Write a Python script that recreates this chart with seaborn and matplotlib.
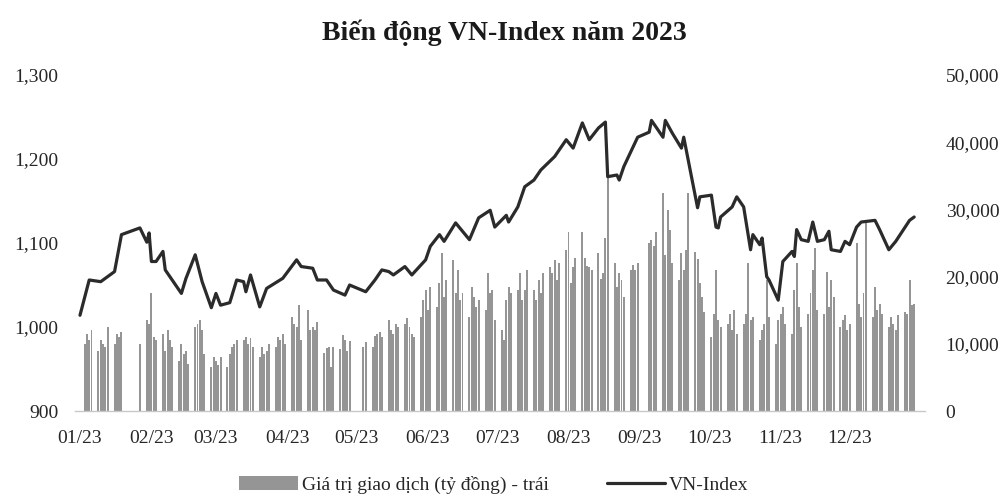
import numpy as np
import pandas as pd
import matplotlib
matplotlib.use("Agg")
import matplotlib.pyplot as plt
import matplotlib.dates as mdates
from matplotlib.ticker import MultipleLocator, FuncFormatter, FixedLocator
import seaborn as sns

# ---------------- data ----------------
title = "Biến động VN-Index năm 2023"
bar_label = "Giá trị giao dịch (tỷ đồng) - trái"
line_label = "VN-Index"
month_ticks = ["2023-01-01", "2023-02-01", "2023-03-01", "2023-04-01", "2023-05-01",
               "2023-06-01", "2023-07-01", "2023-08-01", "2023-09-01", "2023-10-01",
               "2023-11-01", "2023-12-01"]

holidays = ["2023-01-02", "2023-01-20", "2023-01-23", "2023-01-24", "2023-01-25",
            "2023-01-26", "2023-05-01", "2023-05-02", "2023-05-03",
            "2023-09-01", "2023-09-04"]

# trading value (ty dong), one value per trading day, month by month
vol_jan = [10000, 11500, 10500, 12000, 9000, 10500, 10000, 9500, 12500, 10000,
           11500, 11000, 11800, 10000, 13500, 13000]
vol_feb = [17500, 11000, 10500, 11500, 9000, 12000, 10500, 9500, 7500, 10000,
           8500, 9000, 7000, 12500, 13000, 13500, 12000, 8500, 6500, 8000]
vol_mar = [7500, 6800, 8000, 6500, 8500, 9500, 10000, 10500, 10500, 11000,
           10000, 10800, 9500, 8000, 9500, 8500, 9000, 10000, 9500, 11000,
           10500, 11500, 10000]
vol_apr = [14000, 13000, 12500, 15800, 10500, 15000, 12000, 12500, 12000, 13200,
           8600, 9400, 9500, 6500, 9500, 9300, 11300, 10500, 8900, 10400]
vol_may = [9500, 10200, 9500, 11200, 11500, 11800, 11000, 13500, 12000, 11500,
           13000, 12500, 13000, 13800, 12500, 11500, 11000, 14000, 16500, 18000]
vol_jun = [15000, 18500, 15500, 19000, 23500, 17000, 19500, 22500, 17500, 21000,
           16500, 17500, 14000, 18500, 17000, 15500, 16500, 15000, 20500, 17500,
           18000, 13500]
vol_jul = [12000, 10500, 16500, 18500, 17500, 18000, 20500, 16500, 18000, 21000,
           18000, 16500, 19500, 17500, 20500, 21500, 20500, 22500, 19500, 22000,
           24000]
vol_aug = [26600, 19000, 21500, 22800, 26600, 22800, 21600, 21400, 21000, 23500,
           19600, 20500, 25700, 35000, 22000, 18500, 20500, 19500, 17000, 21000,
           21800, 21000, 22000]
vol_sep = [25000, 25500, 24500, 26600, 32400, 23200, 29900, 27000, 22000, 19500,
           23500, 21000, 24000, 32400, 23600, 22600, 19000, 17000, 14800]
vol_oct = [11000, 14500, 21000, 13500, 12500, 13000, 14500, 12000, 15000, 11500,
           13000, 14500, 22000, 13500, 14000, 10500, 12000, 13000, 19500, 14000,
           10000, 13500]
vol_nov = [14500, 15500, 13000, 11500, 18000, 22000, 15500, 12500, 14500, 17500,
           21000, 24200, 15000, 14500, 20700, 15500, 19500, 17000, 12500, 13500,
           14300, 12000]
vol_dec = [13000, 25000, 16000, 14000, 17500, 28000, 14000, 18500, 15000, 16000,
           14500, 12500, 14000, 13000, 12000, 14300, 14700, 14500, 19500, 15800,
           16000]

index_dates = ["2023-01-01", "2023-01-05", "2023-01-10", "2023-01-16", "2023-01-19",
               "2023-01-27", "2023-01-30", "2023-01-31", "2023-02-01", "2023-02-03",
               "2023-02-06", "2023-02-07", "2023-02-14", "2023-02-16", "2023-02-20",
               "2023-02-23", "2023-02-27", "2023-03-01", "2023-03-03", "2023-03-07",
               "2023-03-10", "2023-03-13", "2023-03-14", "2023-03-16", "2023-03-20",
               "2023-03-23", "2023-03-30", "2023-04-05", "2023-04-07", "2023-04-12",
               "2023-04-14", "2023-04-18", "2023-04-21", "2023-04-26", "2023-04-28",
               "2023-05-05", "2023-05-09", "2023-05-12", "2023-05-15", "2023-05-17",
               "2023-05-22", "2023-05-25", "2023-05-31", "2023-06-02", "2023-06-06",
               "2023-06-08", "2023-06-13", "2023-06-19", "2023-06-23", "2023-06-28",
               "2023-06-30", "2023-07-05", "2023-07-06", "2023-07-10", "2023-07-13",
               "2023-07-17", "2023-07-20", "2023-07-26", "2023-07-31", "2023-08-03",
               "2023-08-07", "2023-08-10", "2023-08-14", "2023-08-17", "2023-08-18",
               "2023-08-22", "2023-08-23", "2023-08-25", "2023-08-31", "2023-09-05",
               "2023-09-06", "2023-09-11", "2023-09-12", "2023-09-15", "2023-09-19",
               "2023-09-20", "2023-09-26", "2023-09-27", "2023-10-02", "2023-10-04",
               "2023-10-05", "2023-10-06", "2023-10-11", "2023-10-13", "2023-10-16",
               "2023-10-19", "2023-10-20", "2023-10-23", "2023-10-24", "2023-10-26",
               "2023-10-27", "2023-10-31", "2023-11-02", "2023-11-06", "2023-11-07",
               "2023-11-08", "2023-11-10", "2023-11-13", "2023-11-15", "2023-11-17",
               "2023-11-20", "2023-11-22", "2023-11-23", "2023-11-27", "2023-11-29",
               "2023-12-01", "2023-12-04", "2023-12-06", "2023-12-12", "2023-12-14",
               "2023-12-18", "2023-12-21", "2023-12-27", "2023-12-29"]
index_values = [1014, 1056, 1054, 1066, 1110,
                1118, 1101, 1112, 1078, 1078,
                1090, 1068, 1040, 1058, 1086,
                1054, 1023, 1040, 1026, 1029,
                1056, 1054, 1042, 1062, 1024,
                1046, 1058, 1080, 1072, 1070,
                1056, 1056, 1044, 1038, 1050,
                1042, 1056, 1068, 1066, 1062,
                1072, 1062, 1080, 1096, 1110,
                1102, 1124, 1104, 1130, 1139,
                1119, 1133, 1125, 1143, 1167,
                1175, 1187, 1203, 1223, 1213,
                1243, 1223, 1237, 1244, 1179,
                1181, 1175, 1191, 1226, 1232,
                1246, 1226, 1246, 1231, 1213,
                1226, 1142, 1155, 1157, 1119,
                1118, 1131, 1143, 1155, 1143,
                1092, 1110, 1098, 1106, 1060,
                1056, 1032, 1078, 1090, 1084,
                1116, 1104, 1102, 1125, 1102,
                1104, 1114, 1092, 1090, 1102,
                1098, 1119, 1125, 1127, 1116,
                1092, 1102, 1127, 1131]

# ---------------- build frames ----------------
trade_days = pd.bdate_range("2023-01-03", "2023-12-29")
trade_days = trade_days[~trade_days.isin(pd.to_datetime(holidays))]
volumes = (vol_jan + vol_feb + vol_mar + vol_apr + vol_may + vol_jun +
           vol_jul + vol_aug + vol_sep + vol_oct + vol_nov + vol_dec)
n = min(len(trade_days), len(volumes))
vol_df = pd.DataFrame({"date": trade_days[:n], "value": volumes[:n]})
idx_df = pd.DataFrame({"date": pd.to_datetime(index_dates), "index": index_values})

# ---------------- style ----------------
sns.set_style("white")
plt.rcParams["font.family"] = ["Liberation Serif", "DejaVu Serif"]
text_col = "#262626"

fig = plt.figure(figsize=(10.08, 4.97), dpi=100)
ax = fig.add_axes([0.0744, 0.173, 0.843, 0.676])

ax.bar(vol_df["date"], vol_df["value"], width=0.85, color="#959595",
       linewidth=0, label=bar_label, zorder=2)
ax.set_ylim(0, 50000)

ax2 = ax.twinx()
sns.lineplot(data=idx_df, x="date", y="index", ax=ax2, color="#2b2b2b",
             linewidth=2.3, label=line_label)
ax2.set_ylim(900, 1300)

# bars -> right axis, index line -> left axis
ax.yaxis.tick_right()
ax.yaxis.set_label_position("right")
ax2.yaxis.tick_left()
ax2.yaxis.set_label_position("left")
ax.yaxis.set_major_locator(MultipleLocator(10000))
ax.yaxis.set_major_formatter(FuncFormatter(lambda v, p: f"{v:,.0f}"))
ax2.yaxis.set_major_locator(MultipleLocator(100))
ax2.yaxis.set_major_formatter(FuncFormatter(lambda v, p: f"{v:,.0f}"))
ax2.set_xlabel("")
ax2.set_ylabel("")
ax.set_ylabel("")
ax.set_xlabel("")

xmin = pd.Timestamp("2022-12-29 20:00")
xmax = pd.Timestamp("2024-01-02 14:00")
ax.set_xlim(xmin, xmax)
ax2.set_xlim(xmin, xmax)
ax.xaxis.set_major_locator(FixedLocator(mdates.date2num(pd.to_datetime(month_ticks))))
ax.xaxis.set_major_formatter(mdates.DateFormatter("%m/%y"))

for a in (ax, ax2):
    for s in ("top", "left", "right"):
        a.spines[s].set_visible(False)
ax2.spines["bottom"].set_visible(False)
ax.spines["bottom"].set_color("#c8c8c8")
ax.spines["bottom"].set_linewidth(1.0)

ax.tick_params(axis="x", length=4, width=0.6, color="#c0c0c0", pad=10,
               labelsize=14, labelcolor=text_col)
ax.tick_params(axis="y", length=0, pad=15, labelsize=14, labelcolor=text_col)
ax2.tick_params(axis="y", length=0, pad=12, labelsize=14, labelcolor=text_col)

fig.text(0.5, 0.935, title, ha="center", va="center", fontsize=20,
         fontweight="bold", color="#1a1a1a")

h1, l1 = ax.get_legend_handles_labels()
h2, l2 = ax2.get_legend_handles_labels()
if ax2.get_legend() is not None:
    ax2.get_legend().remove()
fig.legend(h1 + h2, l1 + l2, loc="center", bbox_to_anchor=(0.49, 0.025),
           ncol=2, frameon=False, fontsize=14, handlelength=3.0,
           handletextpad=0.2, columnspacing=3.0, labelcolor=text_col)

fig.savefig("out.png", dpi=100)
